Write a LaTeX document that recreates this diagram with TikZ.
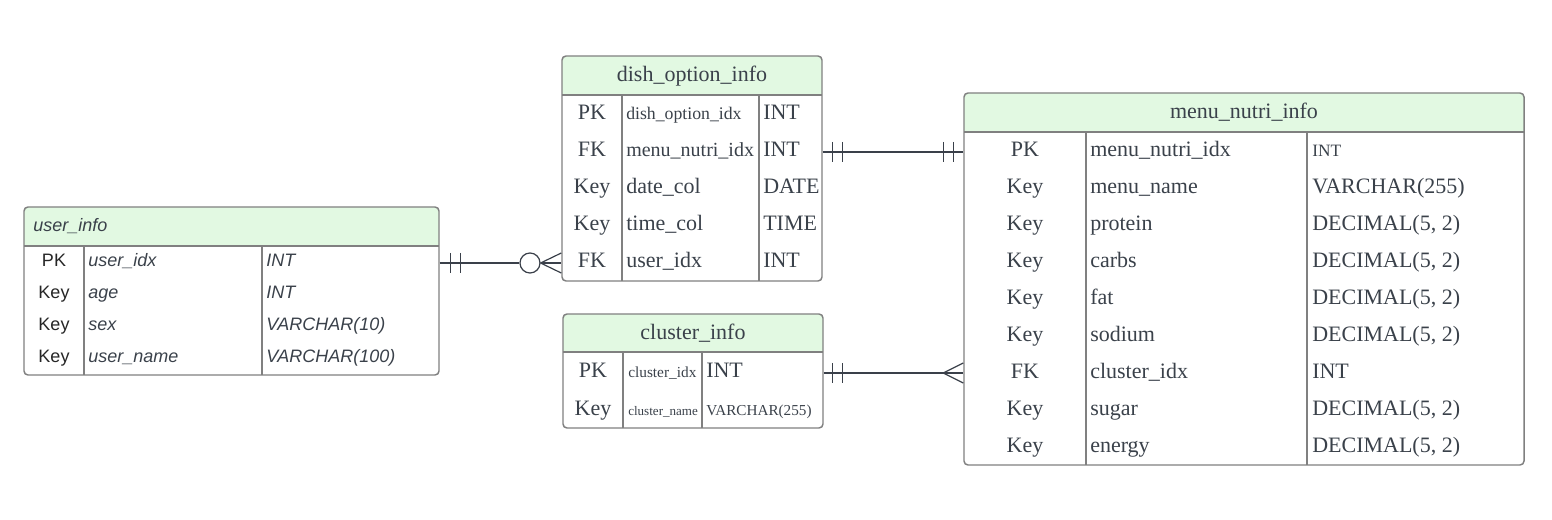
\documentclass[tikz,border=0pt]{standalone}
\usepackage{fontspec}
\setmainfont{Liberation Serif}
\setsansfont{Liberation Sans}
\usetikzlibrary{calc,fit}

\definecolor{hdgreen}{RGB}{226,249,226}
\definecolor{rimgray}{RGB}{128,128,128}
\definecolor{inkgray}{RGB}{58,65,74}
\definecolor{relgray}{RGB}{58,64,74}

\begin{document}
\begin{tikzpicture}[x=0.75pt,y=0.75pt,yscale=-1,xscale=1,
  tbl/.style={draw=rimgray,line width=1.1pt,rounded corners=3pt,inner sep=0pt},
  hd/.style={fill=hdgreen},
  sep/.style={draw=rimgray,line width=0.8pt},
  txt/.style={text=inkgray,inner sep=0pt,text height=11pt,text depth=0pt,font=\fontsize{16.5}{20}\selectfont},
  utxt/.style={text=inkgray,inner sep=0pt,text height=9.6pt,text depth=0pt,font=\fontsize{13.5}{16}\selectfont\sffamily\itshape},
  ukey/.style={text=black!85,inner sep=0pt,text height=9.6pt,text depth=0pt,font=\fontsize{13.5}{16}\selectfont\sffamily},
  rel/.style={draw=relgray,line width=0.9pt},
  optc/.style={circle,draw=relgray,line width=0.9pt,minimum size=15pt,inner sep=0pt}
]
\useasboundingbox (0,0) rectangle (1552,520);

%Table: user_info
\fill[hd] (24,246) [rounded corners=3pt] -- (24,207) -- (439,207) [sharp corners] -- (439,246) -- cycle;
\draw[sep] (24,246) -- (439,246);
\draw[sep] (84,246) -- (84,375);
\draw[sep] (262,246) -- (262,375);
\node[tbl, fit={(24,207) (439,375)}] (user) {};
\node[utxt,anchor=west] (utitle) at (33,225) {user\_info};
\node[ukey] (upk) at (54,260) {PK};
\node[utxt,anchor=west] (uidx) at (88,260) {user\_idx};
\node[utxt,anchor=west] (uidxty) at (266,260) {INT};
\node[ukey] (uk2) at (54,292) {Key};
\node[utxt,anchor=west] (uage) at (88,292) {age};
\node[utxt,anchor=west] (uagety) at (266,292) {INT};
\node[ukey] (uk3) at (54,324) {Key};
\node[utxt,anchor=west] (usex) at (88,324) {sex};
\node[utxt,anchor=west] (usexty) at (266,324) {VARCHAR(10)};
\node[ukey] (uk4) at (54,356) {Key};
\node[utxt,anchor=west] (uname) at (88,356) {user\_name};
\node[utxt,anchor=west] (unamety) at (266,356) {VARCHAR(100)};

%Table: dish_option_info
\fill[hd] (562,95) [rounded corners=3pt] -- (562,56) -- (822,56) [sharp corners] -- (822,95) -- cycle;
\draw[sep] (562,95) -- (822,95);
\draw[sep] (622,95) -- (622,281);
\draw[sep] (759,95) -- (759,281);
\node[tbl, fit={(562,56) (822,281)}] (dish) {};
\node[txt] (dtitle) at (692,74) {dish\_option\_info};
\node[txt] (dpk) at (592,112) {PK};
\node[txt,anchor=west,font=\fontsize{13.3}{16}\selectfont] (didx) at (626,112) {dish\_option\_idx};
\node[txt,anchor=west] (didxty) at (763,112) {INT};
\node[txt] (dfk1) at (592,149) {FK};
\node[txt,anchor=west,font=\fontsize{15}{18}\selectfont] (dmenu) at (626,149) {menu\_nutri\_idx};
\node[txt,anchor=west] (dmenuty) at (763,149) {INT};
\node[txt] (dk3) at (592,186) {Key};
\node[txt,anchor=west] (ddate) at (626,186) {date\_col};
\node[txt,anchor=west] (ddatety) at (763,186) {DATE};
\node[txt] (dk4) at (592,223) {Key};
\node[txt,anchor=west] (dtime) at (626,223) {time\_col};
\node[txt,anchor=west] (dtimety) at (763,223) {TIME};
\node[txt] (dfk2) at (592,260) {FK};
\node[txt,anchor=west] (duser) at (626,260) {user\_idx};
\node[txt,anchor=west] (duserty) at (763,260) {INT};

%Table: cluster_info
\fill[hd] (563,352) [rounded corners=3pt] -- (563,314) -- (823,314) [sharp corners] -- (823,352) -- cycle;
\draw[sep] (563,352) -- (823,352);
\draw[sep] (623,352) -- (623,428);
\draw[sep] (702,352) -- (702,428);
\node[tbl, fit={(563,314) (823,428)}] (clus) {};
\node[txt] (ctitle) at (693,332) {cluster\_info};
\node[txt] (cpk) at (593,370) {PK};
\node[txt,anchor=west,font=\fontsize{11.5}{14}\selectfont] (cidx) at (628,370) {cluster\_idx};
\node[txt,anchor=west] (cidxty) at (706,370) {INT};
\node[txt] (ck2) at (593,408) {Key};
\node[txt,anchor=west,font=\fontsize{9.8}{12}\selectfont] (cname) at (628,408) {cluster\_name};
\node[txt,anchor=west,font=\fontsize{11.4}{14}\selectfont] (cnamety) at (706,408) {VARCHAR(255)};

%Table: menu_nutri_info
\fill[hd] (964,132) [rounded corners=3pt] -- (964,93) -- (1524,93) [sharp corners] -- (1524,132) -- cycle;
\draw[sep] (964,132) -- (1524,132);
\draw[sep] (1086,132) -- (1086,465);
\draw[sep] (1307,132) -- (1307,465);
\node[tbl, fit={(964,93) (1524,465)}] (menu) {};
\node[txt] (mtitle) at (1244,111) {menu\_nutri\_info};
\node[txt] (mpk) at (1025,149) {PK};
\node[txt,anchor=west] (midx) at (1090,149) {menu\_nutri\_idx};
\node[txt,anchor=west,font=\fontsize{13}{16}\selectfont] (midxty) at (1312,149) {INT};
\node[txt] (mk2) at (1025,186) {Key};
\node[txt,anchor=west] (mname) at (1090,186) {menu\_name};
\node[txt,anchor=west] (mnamety) at (1312,186) {VARCHAR(255)};
\node[txt] (mk3) at (1025,223) {Key};
\node[txt,anchor=west] (mprot) at (1090,223) {protein};
\node[txt,anchor=west] (mprotty) at (1312,223) {DECIMAL(5, 2)};
\node[txt] (mk4) at (1025,260) {Key};
\node[txt,anchor=west] (mcarb) at (1090,260) {carbs};
\node[txt,anchor=west] (mcarbty) at (1312,260) {DECIMAL(5, 2)};
\node[txt] (mk5) at (1025,297) {Key};
\node[txt,anchor=west] (mfat) at (1090,297) {fat};
\node[txt,anchor=west] (mfatty) at (1312,297) {DECIMAL(5, 2)};
\node[txt] (mk6) at (1025,334) {Key};
\node[txt,anchor=west] (msod) at (1090,334) {sodium};
\node[txt,anchor=west] (msodty) at (1312,334) {DECIMAL(5, 2)};
\node[txt] (mfk) at (1025,371) {FK};
\node[txt,anchor=west] (mclus) at (1090,371) {cluster\_idx};
\node[txt,anchor=west] (mclusty) at (1312,371) {INT};
\node[txt] (mk8) at (1025,408) {Key};
\node[txt,anchor=west] (msug) at (1090,408) {sugar};
\node[txt,anchor=west] (msugty) at (1312,408) {DECIMAL(5, 2)};
\node[txt] (mk9) at (1025,445) {Key};
\node[txt,anchor=west] (meng) at (1090,445) {energy};
\node[txt,anchor=west] (mengty) at (1312,445) {DECIMAL(5, 2)};

%Relation: user_info -> dish_option_info (one to zero-or-many)
\coordinate (r1a) at (user.east |- 0,263);
\coordinate (r1b) at (dish.west |- 0,263);
\node[optc] (r1o) at (530,263) {};
\draw[rel] (r1a) -- (r1o);
\draw[rel] ($(r1a)+(11,-10)$) -- ($(r1a)+(11,10)$);
\draw[rel] ($(r1a)+(21,-10)$) -- ($(r1a)+(21,10)$);
\draw[rel] ($(r1b)+(0,-10)$) -- (r1o.east) -- ($(r1b)+(0,10)$);
\draw[rel] (r1o.east) -- (r1b);

%Relation: dish_option_info -> menu_nutri_info (one to one)
\coordinate (r2a) at (dish.east |- 0,152);
\coordinate (r2b) at (menu.west |- 0,152);
\draw[rel] (r2a) -- (r2b);
\draw[rel] ($(r2a)+(10,-10)$) -- ($(r2a)+(10,10)$);
\draw[rel] ($(r2a)+(20,-10)$) -- ($(r2a)+(20,10)$);
\draw[rel] ($(r2b)+(-20,-10)$) -- ($(r2b)+(-20,10)$);
\draw[rel] ($(r2b)+(-10,-10)$) -- ($(r2b)+(-10,10)$);

%Relation: cluster_info -> menu_nutri_info (one to many)
\coordinate (r3a) at (clus.east |- 0,373);
\coordinate (r3b) at (menu.west |- 0,373);
\draw[rel] (r3a) -- (r3b);
\draw[rel] ($(r3a)+(9,-10)$) -- ($(r3a)+(9,10)$);
\draw[rel] ($(r3a)+(19,-10)$) -- ($(r3a)+(19,10)$);
\draw[rel] ($(r3b)+(0,-10)$) -- ($(r3b)+(-20,0)$) -- ($(r3b)+(0,10)$);

\end{tikzpicture}
\end{document}
